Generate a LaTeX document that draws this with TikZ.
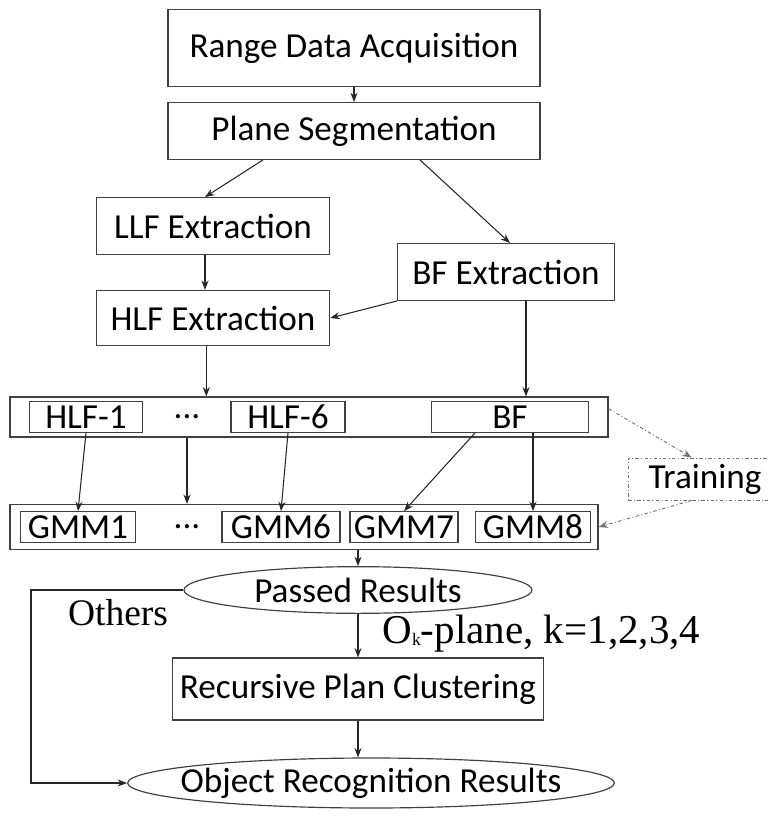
\documentclass[tikz,border=0pt]{standalone}
\usepackage{fontspec}
\setmainfont{Carlito}
\newfontfamily\serifcap{Liberation Serif}
\usetikzlibrary{shapes.geometric, positioning, arrows.meta}

\begin{document}
\begin{tikzpicture}[x=0.03cm, y=-0.03cm,
    every node/.style={font=\fontsize{30}{36}\selectfont, inner sep=0pt},
    box/.style={draw=black!75, line width=1pt, minimum height=1.7cm},
    cell/.style={draw=black!75, line width=1pt, minimum height=0.92cm},
    oval/.style={draw=black!75, line width=1pt, ellipse},
    arr/.style={-{Stealth[length=8pt, width=6pt]}, line width=0.9pt, black!85},
    dasharr/.style={-{Stealth[length=8pt, width=6pt]}, line width=0.8pt, black!55, dash dot},
    note/.style={text=black, font=\serifcap\fontsize{32}{36}\selectfont}]
    \useasboundingbox (0,0) rectangle (768,823);

    % Turning point of the feedback line
    \coordinate (C_OTHERS) at (31, 590);

    % 1. Acquisition and segmentation
    \node[box, minimum width=11.16cm, minimum height=2.31cm] (range) at (354, 48) {Range Data Acquisition};
    \node[box, minimum width=11.16cm] (plane) at (354, 131) {Plane Segmentation};

    % 2. Feature extraction
    \node[box, minimum width=7cm] (llf) at (213, 226) {LLF Extraction};
    \node[box, minimum width=6.5cm] (bf) at (506, 272) {BF Extraction};
    \node[box, minimum width=7cm, minimum height=1.65cm] (hlf) at (213, 318) {HLF Extraction};

    % 3. Feature row
    \node[box, minimum width=17.94cm, minimum height=1.2cm] (row1) at (309, 417) {};
    \node[cell, minimum width=3.4cm] (hlf1) at (86, 417) {HLF-1};
    \node (dots1) at (187, 417) {...};
    \node[cell, minimum width=3.42cm] (hlf6) at (288, 417) {HLF-6};
    \node[cell, minimum width=4.71cm] (bfin) at (510, 417) {BF};

    % 4. Model row
    \node[box, minimum width=17.64cm, minimum height=1.35cm] (row2) at (304, 527) {};
    \node[cell, minimum width=3.45cm] (gmm1) at (78, 527) {GMM1};
    \node (dots2) at (187, 527) {...};
    \node[cell, minimum width=3.54cm] (gmm6) at (281, 527) {GMM6};
    \node[cell, minimum width=3.24cm] (gmm7) at (404, 527) {GMM7};
    \node[cell, minimum width=3.45cm] (gmm8) at (533, 527) {GMM8};

    % 5. Training
    \node[draw=black!55, line width=0.8pt, dash dot, minimum width=4.6cm, minimum height=1.26cm] (training) at (705, 479) {Training};

    % 6. Results
    \node[oval, minimum width=10.44cm, minimum height=1.4cm] (passed) at (358, 590) {\makebox[0pt]{Passed Results}};
    \node[box, minimum width=11.13cm, minimum height=1.86cm] (cluster) at (358, 689) {Recursive Plan Clustering};
    \node[oval, minimum width=14.6cm, minimum height=1.5cm] (object) at (371, 783) {\makebox[0pt]{Object Recognition Results}};
    \node[note] (others) at (118, 613) {Others};

    % Connectors
    \draw[arr] (range) -- (plane);
    \draw[arr] ([xshift=-2.73cm]plane.south) -- ([xshift=-0.24cm]llf.north);
    \draw[arr] ([xshift=1.98cm]plane.south) -- ([xshift=0.12cm]bf.north);
    \draw[arr] ([xshift=-0.24cm]llf.south) -- ([xshift=-0.24cm]hlf.north);
    \draw[arr] (bf.south west) -- (hlf.east);
    \draw[arr] ([xshift=-0.2cm]hlf.south) -- ([xshift=-0.2cm]hlf.south |- row1.north);
    \draw[arr] ([xshift=0.6cm]bf.south) -- ([xshift=0.6cm]bf.south |- row1.north);

    \draw[arr] (hlf1.south) -- (gmm1.north);
    \draw[arr] (row1.south -| dots1) -- (row2.north -| dots1);
    \draw[arr] (hlf6.south) -- (gmm6.north);
    \draw[arr] ([xshift=-1.05cm]bfin.south) -- (gmm7.north);
    \draw[arr] (bfin.south -| gmm8.north) -- (gmm8.north);

    \draw[dasharr] ([yshift=0.25cm]row1.east) -- ([xshift=-0.4cm]training.north);
    \draw[dasharr] ([xshift=-0.4cm]training.south) -- (row2.east);

    \draw[arr] (row2.south -| passed.north) -- (passed.north);
    \draw[arr] (passed) -- node[note, font=\serifcap\fontsize{35}{38}\selectfont, right=0.72cm, pos=0.45] {O\raisebox{-0.1ex}{\fontsize{15}{15}\selectfont k}-plane, k=1,2,3,4} (cluster);
    \draw[arr] (cluster.south) -- (cluster.south |- object.north);
    \draw[arr] (passed.west) -- (C_OTHERS) |- (object.west);

\end{tikzpicture}
\end{document}
